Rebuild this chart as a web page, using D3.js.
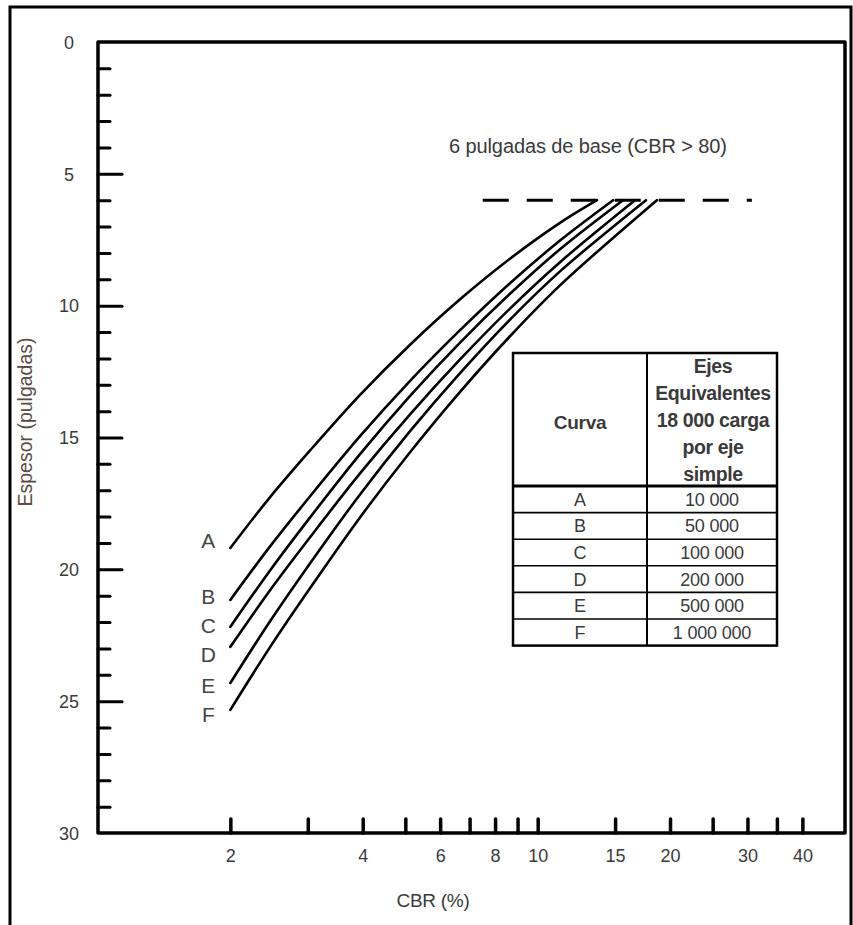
<!DOCTYPE html>
<html>
<head>
<meta charset="utf-8">
<script src="https://cdn.jsdelivr.net/npm/d3@7"></script>
<style>
  html, body { margin: 0; padding: 0; background: #fff; }
  svg { display: block; font-family: "Liberation Sans", Arial, sans-serif; }
</style>
</head>
<body>
<svg id="chart" width="853" height="925"></svg>
<script>
// ---- data ----
const curveNames = ["A", "B", "C", "D", "E", "F"];
const ejesEquivalentes = ["10 000", "50 000", "100 000", "200 000", "500 000", "1 000 000"];

// [CBR %, espesor (pulgadas)]
const curveA = [[2, 19.19], [2.46, 17.27], [3.04, 15.48], [3.94, 13.39], [5.12, 11.49], [6.66, 9.76], [8.65, 8.22], [11.24, 6.86], [13.64, 6.0]];
const curveB = [[2, 21.16], [2.46, 19.14], [3.04, 17.22], [3.94, 14.96], [5.12, 12.86], [6.66, 10.93], [8.65, 9.15], [11.24, 7.53], [14.84, 6.0]];
const curveC = [[2, 22.18], [2.46, 20.05], [3.04, 18.02], [3.94, 15.64], [5.12, 13.43], [6.66, 11.40], [8.65, 9.55], [11.24, 7.86], [15.63, 6.0]];
const curveD = [[2, 22.94], [2.46, 20.80], [3.04, 18.77], [3.94, 16.37], [5.12, 14.13], [6.66, 12.04], [8.65, 10.11], [11.24, 8.35], [16.64, 6.0]];
const curveE = [[2, 24.31], [2.46, 21.98], [3.04, 19.76], [3.94, 17.17], [5.12, 14.77], [6.66, 12.56], [8.65, 10.53], [11.24, 8.70], [17.63, 6.0]];
const curveF = [[2, 25.33], [2.46, 22.96], [3.04, 20.70], [3.94, 18.04], [5.12, 15.57], [6.66, 13.27], [8.65, 11.16], [11.24, 9.23], [18.67, 6.0]];
const curves = [curveA, curveB, curveC, curveD, curveE, curveF];

const baseLine = [[7.5, 6], [30.7, 6]];   // dashed 6-inch base line
const xTicks = [2, 3, 4, 5, 6, 7, 8, 9, 10, 15, 20, 25, 30, 35, 40];
const xTickLabels = [2, 4, 6, 8, 10, 15, 20, 30, 40];
const yMinorTicks = [1, 2, 3, 4, 6, 7, 8, 9, 11, 12, 13, 14, 16, 17, 18, 19, 21, 22, 23, 24, 26, 27, 28, 29];
const yMajorTicks = [5, 10, 15, 20, 25];
const yTickLabels = [0, 5, 10, 15, 20, 25, 30];
const headerLines = ["Ejes", "Equivalentes", "18 000 carga", "por eje", "simple"];

// ---- layout ----
const svg = d3.select("#chart");
const x = d3.scaleLog().domain([1, 50]).range([98, 845]);
const y = d3.scaleLinear().domain([0, 30]).range([42, 833]);
const textColor = "#3a3a3a";
const labelNudge = [-8, -3, -1, 8, 2, 5];   // vertical nudges of curve letters (px)

// outer frame
svg.append("rect").attr("x", 10).attr("y", 7).attr("width", 841).attr("height", 940)
  .attr("fill", "none").attr("stroke", "#000").attr("stroke-width", 3);

// plot frame
svg.append("rect")
  .attr("x", x(1)).attr("y", y(0))
  .attr("width", x(50) - x(1)).attr("height", y(30) - y(0))
  .attr("fill", "none").attr("stroke", "#000").attr("stroke-width", 3.5)
  .attr("stroke-linejoin", "round");

// y ticks (inward)
const yMinor = svg.append("g").attr("transform", `translate(${x(1)},0)`)
  .call(d3.axisRight(y).tickValues(yMinorTicks).tickSize(12).tickFormat(""));
const yMajor = svg.append("g").attr("transform", `translate(${x(1)},0)`)
  .call(d3.axisRight(y).tickValues(yMajorTicks).tickSize(24).tickFormat(""));
[yMinor, yMajor].forEach(g => {
  g.select(".domain").remove();
  g.selectAll("line").attr("stroke", "#000").attr("stroke-width", 3).attr("stroke-linecap", "round");
});

// y labels
const yLab = svg.append("g").attr("transform", `translate(${x(1)},0)`)
  .call(d3.axisLeft(y).tickValues(yTickLabels).tickSize(0).tickFormat(d3.format("d")));
yLab.select(".domain").remove();
yLab.selectAll("text").attr("x", -29).attr("dy", "0.35em").attr("text-anchor", "middle")
  .attr("fill", textColor).style("font-size", "18px").style("font-family", "'Liberation Sans', Arial, sans-serif");

// x ticks (inward)
const xT = svg.append("g").attr("transform", `translate(0,${y(30)})`)
  .call(d3.axisTop(x).tickValues(xTicks).tickSize(14).tickFormat(""));
xT.select(".domain").remove();
xT.selectAll("line").attr("stroke", "#000").attr("stroke-width", 3.5).attr("stroke-linecap", "round");

// x labels
const xLab = svg.append("g").attr("transform", `translate(0,${y(30)})`)
  .call(d3.axisBottom(x).tickValues(xTickLabels).tickSize(0).tickPadding(16).tickFormat(d3.format("d")));
xLab.select(".domain").remove();
xLab.selectAll("text").attr("fill", textColor).style("font-size", "18px")
  .style("font-family", "'Liberation Sans', Arial, sans-serif");

// axis titles
svg.append("text").attr("x", 433).attr("y", 907).attr("text-anchor", "middle")
  .attr("fill", textColor).style("font-size", "19px").style("letter-spacing", "-0.3px").text("CBR (%)");
svg.append("text").attr("transform", "translate(32,422) rotate(-90)").attr("text-anchor", "middle")
  .attr("fill", "#5a4c44").style("font-size", "19.5px").text("Espesor (pulgadas)");

// dashed base line
svg.append("path").datum(baseLine)
  .attr("d", d3.line().x(d => x(d[0])).y(d => y(d[1])))
  .attr("stroke", "#000").attr("stroke-width", 3).attr("stroke-dasharray", "26,18").attr("fill", "none");
svg.append("text").attr("x", 449).attr("y", 153).attr("fill", textColor)
  .style("font-size", "20px").style("letter-spacing", "-0.1px").text("6 pulgadas de base (CBR > 80)");

// curves
const line = d3.line().x(d => x(d[0])).y(d => y(d[1])).curve(d3.curveCatmullRom.alpha(0.5));
svg.append("g").selectAll("path").data(curves).join("path")
  .attr("d", line).attr("fill", "none").attr("stroke", "#000")
  .attr("stroke-width", 2.6).attr("stroke-linecap", "round");

// curve labels
svg.append("g").selectAll("text").data(curves).join("text")
  .attr("x", d => x(d[0][0]) - 22).attr("y", (d, i) => y(d[0][1]) + labelNudge[i])
  .attr("dy", "0.36em").attr("text-anchor", "middle").attr("fill", "#444")
  .style("font-size", "21px").text((d, i) => curveNames[i]);

// table
const tb = { x0: 513, x1: 647, x2: 777, y0: 353, yH: 486, rowH: 26.6 };
const tg = svg.append("g");
const nRows = curveNames.length;
const yEnd = tb.yH + nRows * tb.rowH;
tg.append("rect").attr("x", tb.x0).attr("y", tb.y0).attr("width", tb.x2 - tb.x0).attr("height", yEnd - tb.y0)
  .attr("fill", "#fff").attr("stroke", "#000").attr("stroke-width", 2.5);
tg.append("line").attr("x1", tb.x1).attr("x2", tb.x1).attr("y1", tb.y0).attr("y2", yEnd)
  .attr("stroke", "#000").attr("stroke-width", 2);
tg.append("line").attr("x1", tb.x0).attr("x2", tb.x2).attr("y1", tb.yH).attr("y2", tb.yH)
  .attr("stroke", "#000").attr("stroke-width", 3);
tg.selectAll("line.row").data(d3.range(1, nRows)).join("line").attr("class", "row")
  .attr("x1", tb.x0).attr("x2", tb.x2)
  .attr("y1", i => tb.yH + i * tb.rowH).attr("y2", i => tb.yH + i * tb.rowH)
  .attr("stroke", "#000").attr("stroke-width", 1.6);
tg.append("text").attr("x", (tb.x0 + tb.x1) / 2).attr("y", 422).attr("dy", "0.35em")
  .attr("text-anchor", "middle").attr("fill", textColor).style("font-size", "19px")
  .style("font-weight", "bold").style("letter-spacing", "-0.3px").text("Curva");
tg.selectAll("text.hdr").data(headerLines).join("text").attr("class", "hdr")
  .attr("x", (tb.x1 + tb.x2) / 2 + 1).attr("y", (d, i) => 366 + i * 27).attr("dy", "0.35em")
  .attr("text-anchor", "middle").attr("fill", textColor).style("font-size", "19.5px")
  .style("font-weight", "bold").style("letter-spacing", "-0.4px").text(d => d);
tg.selectAll("text.cn").data(curveNames).join("text").attr("class", "cn")
  .attr("x", (tb.x0 + tb.x1) / 2).attr("y", (d, i) => tb.yH + (i + 0.5) * tb.rowH).attr("dy", "0.36em")
  .attr("text-anchor", "middle").attr("fill", textColor).style("font-size", "18px").text(d => d);
tg.selectAll("text.ev").data(ejesEquivalentes).join("text").attr("class", "ev")
  .attr("x", (tb.x1 + tb.x2) / 2).attr("y", (d, i) => tb.yH + (i + 0.5) * tb.rowH).attr("dy", "0.36em")
  .attr("text-anchor", "middle").attr("fill", textColor).style("font-size", "18px")
  .style("letter-spacing", "-0.2px").text(d => d);
</script>
</body>
</html>
